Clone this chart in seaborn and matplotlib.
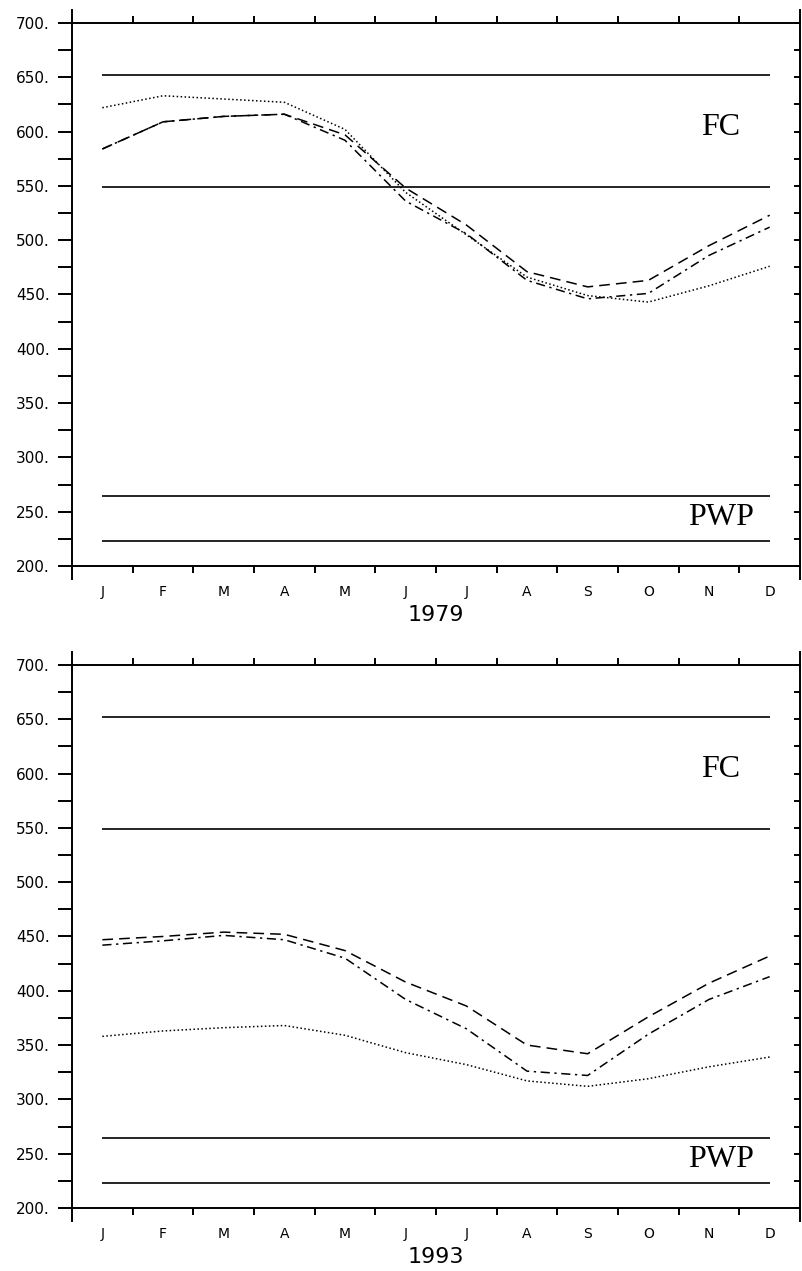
import numpy as np
import pandas as pd
import matplotlib
matplotlib.use('Agg')
import matplotlib.pyplot as plt
import seaborn as sns

# months and tick values
months = ['J', 'F', 'M', 'A', 'M', 'J', 'J', 'A', 'S', 'O', 'N', 'D']
month_pos = np.arange(12) + 0.5
y_major = np.arange(200, 701, 50)
y_minor = np.arange(225, 700, 50)

# soil water, 1979
dash_1979 = [584, 609, 614, 616, 597, 548, 514, 471, 457, 463, 495, 523]
dashdot_1979 = [584, 609, 614, 616, 592, 536, 506, 463, 446, 451, 486, 512]
dot_1979 = [622, 633, 630, 627, 602, 544, 505, 466, 449, 443, 458, 476]

# soil water, 1993
dash_1993 = [447, 450, 454, 452, 437, 408, 386, 350, 342, 376, 407, 432]
dashdot_1993 = [442, 446, 451, 447, 430, 392, 365, 326, 322, 360, 392, 413]
dot_1993 = [358, 363, 366, 368, 359, 343, 332, 317, 312, 319, 330, 339]

# field capacity / wilting point bands
fc_levels = [652, 549]
pwp_levels = [264, 223]

sns.set_style("ticks", {'axes.edgecolor': 'black', 'text.color': 'black',
                        'xtick.color': 'black', 'ytick.color': 'black'})
plt.rcParams['font.family'] = ['DejaVu Sans']

fig = plt.figure(figsize=(8.02, 12.71), dpi=100)


def draw_panel(ax, year, dash, dashdot, dot):
    df = pd.DataFrame({
        'month': np.tile(month_pos, 3),
        'value': dash + dashdot + dot,
        'series': ['dash'] * 12 + ['dashdot'] * 12 + ['dot'] * 12,
    })
    sns.lineplot(data=df, x='month', y='value', style='series', ax=ax,
                 color='black', linewidth=1.1, legend=False,
                 dashes={'dash': (7, 4), 'dashdot': (6, 3, 1.5, 3), 'dot': (1, 1.6)})
    ax.hlines(fc_levels + pwp_levels, month_pos[0], month_pos[-1], color='black', linewidth=1.2)

    ax.set_xlim(0, 12)
    ax.set_ylim(200, 700)
    ax.set_xlabel('')
    ax.set_ylabel('')

    ax.set_yticks(y_major, [f'{v}.' for v in y_major])
    ax.set_yticks(y_minor, minor=True)
    ax.tick_params(axis='y', which='both', direction='out', length=10, width=1.4,
                   pad=6, labelsize=11, left=True, right=False, colors='black')

    ax.set_xticks(np.arange(1, 12), [''] * 11)
    ax.set_xticks(month_pos, months, minor=True)
    ax.tick_params(axis='x', which='major', direction='out', length=5, width=1.4,
                   top=True, bottom=True, colors='black')
    ax.tick_params(axis='x', which='minor', length=0, pad=14, labelsize=10, colors='black')

    for side in ['left', 'top', 'bottom']:
        ax.spines[side].set_linewidth(1.4)
        ax.spines[side].set_color('black')
    ax.spines['left'].set_bounds(188, 712)
    ax.spines['right'].set_visible(False)

    # right axis with inward ticks
    axr = ax.twinx()
    axr.set_ylim(200, 700)
    axr.set_yticks(y_major)
    axr.set_yticks(y_minor, minor=True)
    axr.tick_params(axis='y', which='both', direction='in', length=4, width=1.4,
                    labelright=False, colors='black')
    for side in ['left', 'top', 'bottom']:
        axr.spines[side].set_visible(False)
    axr.spines['right'].set_linewidth(1.4)
    axr.spines['right'].set_color('black')
    axr.spines['right'].set_bounds(188, 712)

    ax.text(10.7, 604, 'FC', family='Liberation Serif', fontsize=23, ha='center', va='center', color='black')
    ax.text(10.7, 245, 'PWP', family='Liberation Serif', fontsize=23, ha='center', va='center', color='black')
    ax.text(0.5, -0.072, year, transform=ax.transAxes, ha='center', va='top', fontsize=16, color='black')


ax1 = fig.add_axes([0.0898, 0.5547, 0.9077, 0.4272])
draw_panel(ax1, '1979', dash_1979, dashdot_1979, dot_1979)

ax2 = fig.add_axes([0.0898, 0.0496, 0.9077, 0.4272])
draw_panel(ax2, '1993', dash_1993, dashdot_1993, dot_1993)

fig.savefig('out.png', dpi=100)
